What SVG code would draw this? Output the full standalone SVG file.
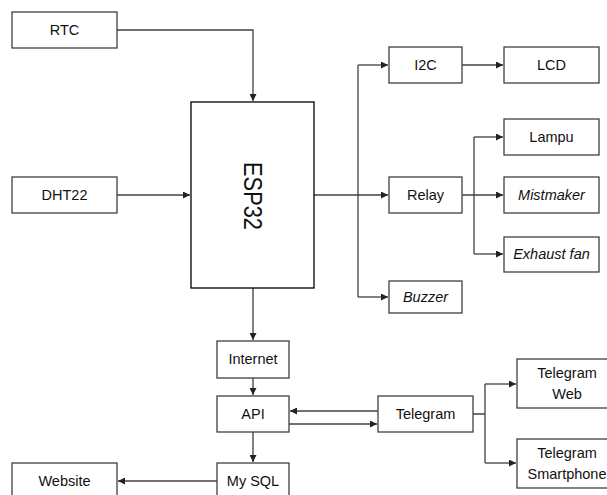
<svg xmlns="http://www.w3.org/2000/svg" width="607" height="495" viewBox="0 0 607 495">
<defs>
<marker id="ah" viewBox="0 0 8 8" refX="8" refY="4" markerWidth="7" markerHeight="7" markerUnits="userSpaceOnUse" orient="auto">
<path d="M0,0 L8,4 L0,8 z" fill="#222"/>
</marker>
</defs>
<style>
.box{fill:#fff;stroke:#404040;stroke-width:1.3}
.esp{fill:#fff;stroke:#000;stroke-width:1.3}
.t{font-family:"Liberation Sans",Arial,sans-serif;font-size:14.5px;fill:#111;text-anchor:middle}
.i{font-style:italic}
.c{fill:none;stroke:#404040;stroke-width:1.3}
.a{marker-end:url(#ah)}
</style>
<rect width="607" height="495" fill="#fff"/>
<g id="connectors">
<path class="c a" d="M117,30 H253 V101"/>
<path class="c a" d="M117,195 H190"/>
<path class="c a" d="M314,195 H388"/>
<path class="c" d="M358,65 V297"/>
<path class="c a" d="M358,65 H388"/>
<path class="c a" d="M358,297 H388"/>
<path class="c a" d="M462,65 H503"/>
<path class="c a" d="M462,195 H503"/>
<path class="c" d="M474,137 V254"/>
<path class="c a" d="M474,137 H503"/>
<path class="c a" d="M474,254 H503"/>
<path class="c a" d="M253,288 V340"/>
<path class="c a" d="M253,378 V395"/>
<path class="c a" d="M253,432 V462"/>
<path class="c a" d="M217,481 H118"/>
<path class="c a" d="M378,411 H290"/>
<path class="c a" d="M289,424 H377"/>
<path class="c" d="M473,414 H485 M485,384 V463"/>
<path class="c a" d="M485,384 H516"/>
<path class="c a" d="M485,463 H516"/>
</g>
<g id="rtc"><rect class="box" x="12" y="12" width="105" height="36"/><text class="t" x="64.5" y="35">RTC</text></g>
<g id="dht22"><rect class="box" x="12" y="177" width="105" height="36"/><text class="t" x="64.5" y="200">DHT22</text></g>
<g id="esp32"><rect class="esp" x="191" y="102" width="123" height="186"/><text transform="translate(253,196) rotate(90)" x="0" y="9" font-family="'Liberation Sans',Arial,sans-serif" font-size="26" text-anchor="middle" textLength="68" lengthAdjust="spacingAndGlyphs" fill="#111">ESP32</text></g>
<g id="i2c"><rect class="box" x="389" y="47" width="73" height="36"/><text class="t" x="425.5" y="70">I2C</text></g>
<g id="lcd"><rect class="box" x="504" y="47" width="95" height="36"/><text class="t" x="551.5" y="70">LCD</text></g>
<g id="relay"><rect class="box" x="389" y="177" width="73" height="36"/><text class="t" x="425.5" y="200">Relay</text></g>
<g id="buzzer"><rect class="box" x="389" y="281" width="73" height="32"/><text class="t i" x="425.5" y="302">Buzzer</text></g>
<g id="lampu"><rect class="box" x="504" y="119" width="95" height="36"/><text class="t" x="551.5" y="142">Lampu</text></g>
<g id="mistmaker"><rect class="box" x="504" y="177" width="95" height="36"/><text class="t i" x="551.5" y="200">Mistmaker</text></g>
<g id="exhaust"><rect class="box" x="504" y="237" width="95" height="35"/><text class="t i" x="551.5" y="259">Exhaust fan</text></g>
<g id="internet"><rect class="box" x="217" y="341" width="72" height="37"/><text class="t" x="253" y="364">Internet</text></g>
<g id="api"><rect class="box" x="217" y="396" width="72" height="36"/><text class="t" x="253" y="419">API</text></g>
<g id="mysql"><rect class="box" x="217" y="463" width="72" height="40"/><text class="t" x="253" y="486">My SQL</text></g>
<g id="website"><rect class="box" x="12" y="463" width="105" height="40"/><text class="t" x="64.5" y="486">Website</text></g>
<g id="telegram"><rect class="box" x="378" y="396" width="95" height="36"/><text class="t" x="425.5" y="419">Telegram</text></g>
<g id="telegramweb"><rect class="box" x="517" y="359" width="100" height="49"/><text class="t" x="567" y="378">Telegram</text><text class="t" x="567" y="399">Web</text></g>
<g id="telegramsmart"><rect class="box" x="517" y="439" width="100" height="49"/><text class="t" x="567" y="458">Telegram</text><text class="t" x="567" y="479">Smartphone</text></g>
</svg>
